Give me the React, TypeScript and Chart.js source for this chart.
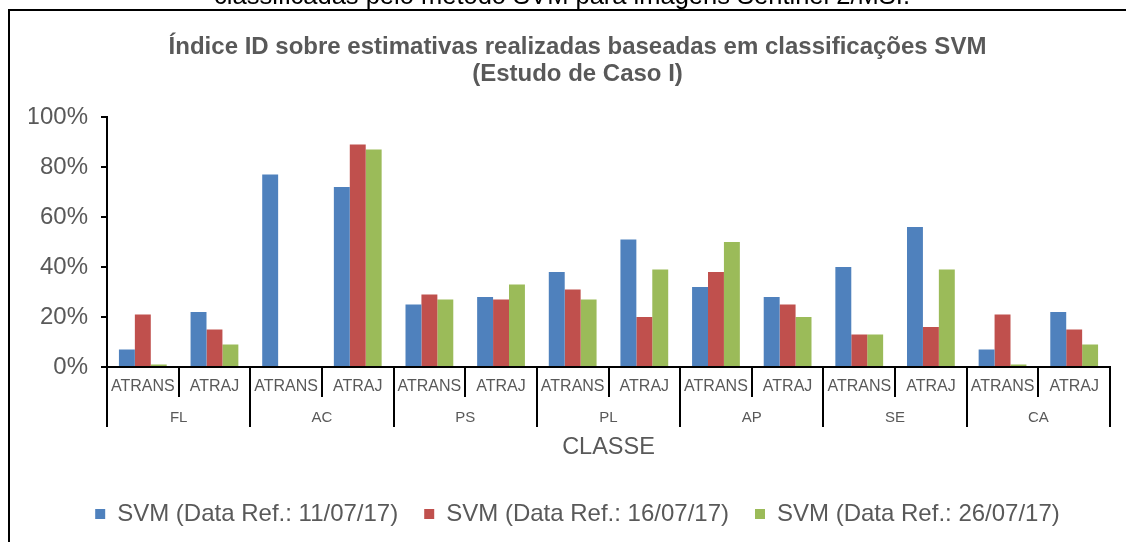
import React, { useEffect, useRef } from "react";
import { Chart, registerables } from "chart.js";

Chart.register(...registerables);

const groups = ["FL", "AC", "PS", "PL", "AP", "SE", "CA"];
const subCategories = ["ATRANS", "ATRAJ"];
const labels = groups.flatMap((g) => subCategories.map((s) => `${g} ${s}`));

const svm1107 = [7, 22, 77, 72, 25, 28, 38, 51, 32, 28, 40, 56, 7, 22];
const svm1607 = [21, 15, 0, 89, 29, 27, 31, 20, 38, 25, 13, 16, 21, 15];
const svm2607 = [1, 9, 0, 87, 27, 33, 27, 39, 50, 20, 13, 39, 1, 9];

const seriesNames = [
  "SVM (Data Ref.: 11/07/17)",
  "SVM (Data Ref.: 16/07/17)",
  "SVM (Data Ref.: 26/07/17)",
];
const colors = ["#4F81BD", "#C0504D", "#9BBB59"];

const yTicks = [0, 20, 40, 60, 80, 100];

const titleLines = [
  "Índice ID sobre estimativas realizadas baseadas em classificações SVM",
  "(Estudo de Caso I)",
];
const captionText = "classificadas pelo método SVM para imagens Sentinel 2/MSI.";
const xTitle = "CLASSE";

const FONT = "'Liberation Sans', Arial, sans-serif";
const GRAY = "#595959";

const multiLevelAxis = {
  id: "multiLevelAxis",
  afterDraw(chart: any) {
    const { ctx, chartArea } = chart;
    const xs = chart.scales.x;
    const n = labels.length;
    const left = chartArea.left;
    const right = chartArea.right;
    const bottom = chartArea.bottom;
    const step = (right - left) / n;
    ctx.save();
    // frame
    ctx.fillStyle = "#000";
    ctx.fillRect(8, 9, 1118, 2);
    ctx.fillRect(8, 9, 2, 533);
    // caption (cut off at top)
    ctx.font = `25.5px ${FONT}`;
    ctx.textAlign = "center";
    ctx.textBaseline = "alphabetic";
    ctx.fillStyle = "#000";
    ctx.fillText(captionText, 562, 4);
    // axis line
    ctx.strokeStyle = "#000";
    ctx.lineWidth = 2;
    ctx.beginPath();
    ctx.moveTo(left - 1, bottom);
    ctx.lineTo(right + 1, bottom);
    ctx.stroke();
    // separators
    for (let i = 0; i <= n; i++) {
      const x = Math.round(left + i * step);
      const len = i % 2 === 0 ? 60 : 30;
      ctx.beginPath();
      ctx.moveTo(x, bottom);
      ctx.lineTo(x, bottom + len);
      ctx.stroke();
    }
    ctx.fillStyle = GRAY;
    ctx.textAlign = "center";
    ctx.textBaseline = "middle";
    ctx.font = `16px ${FONT}`;
    for (let i = 0; i < n; i++) {
      const x = xs.getPixelForValue(i);
      ctx.fillText(subCategories[i % 2], x, bottom + 20);
    }
    ctx.font = `15px ${FONT}`;
    groups.forEach((g, gi) => {
      const x = (xs.getPixelForValue(gi * 2) + xs.getPixelForValue(gi * 2 + 1)) / 2;
      ctx.fillText(g, x, bottom + 51);
    });
    ctx.font = `23.5px ${FONT}`;
    ctx.fillText(xTitle, (left + right) / 2, bottom + 81);
    ctx.restore();
  },
};

export default function App() {
  const ref = useRef<HTMLCanvasElement>(null);
  useEffect(() => {
    if (!ref.current) return;
    const datasets = [svm1107, svm1607, svm2607].map((d, i) => ({
      label: seriesNames[i],
      data: d,
      backgroundColor: colors[i],
      borderWidth: 0,
      categoryPercentage: 0.667,
      barPercentage: 1.0,
    }));
    const chart = new Chart(ref.current, {
      type: "bar",
      data: { labels, datasets },
      plugins: [multiLevelAxis],
      options: {
        responsive: false,
        animation: false,
        layout: { padding: { left: 29, right: 0, top: 0, bottom: 6 } },
        plugins: {
          tooltip: { enabled: false },
          title: {
            display: true,
            text: titleLines,
            color: GRAY,
            font: { family: FONT, size: 24, weight: "bold", lineHeight: 27 / 24 },
            padding: { top: 33.5, bottom: 29.5 },
          },
          legend: {
            display: true,
            position: "bottom",
            labels: {
              color: GRAY,
              font: { family: FONT, size: 24 },
              boxWidth: 10,
              boxHeight: 10,
              padding: 26,
            },
          },
        },
        scales: {
          x: {
            type: "category",
            offset: true,
            grid: { display: false },
            border: { display: false },
            ticks: { display: false },
            afterFit: (s: any) => {
              s.height = 109;
            },
          },
          y: {
            min: 0,
            max: 100,
            afterBuildTicks: (s: any) => {
              s.ticks = yTicks.map((v) => ({ value: v }));
            },
            border: { display: true, color: "#000", width: 2 },
            grid: {
              display: true,
              drawOnChartArea: false,
              drawTicks: true,
              tickLength: 6,
              color: "#000",
              lineWidth: 2,
            },
            ticks: {
              color: GRAY,
              font: { family: FONT, size: 24 },
              padding: 13,
              callback: (v: any) => `${v}%`,
            },
            afterFit: (s: any) => {
              s.width = 78;
            },
          },
          yR: {
            position: "right",
            display: true,
            min: 0,
            max: 100,
            grid: { display: false },
            border: { display: false },
            ticks: { display: false },
            afterFit: (s: any) => {
              s.width = 16;
            },
          },
        },
      },
    });
    return () => chart.destroy();
  }, []);
  return (
    <div style={{ position: "absolute", left: 0, top: 0, width: 1126, height: 542, background: "#fff" }}>
      <canvas ref={ref} width={1126} height={542} />
    </div>
  );
}
